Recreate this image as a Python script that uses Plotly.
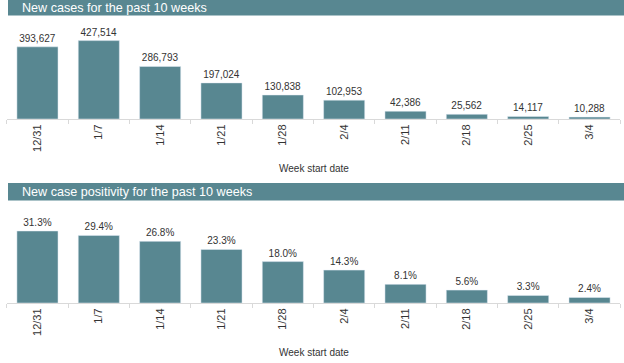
import plotly.graph_objects as go

weeks = ["12/31", "1/7", "1/14", "1/21", "1/28", "2/4", "2/11", "2/18", "2/25", "3/4"]
new_cases = [393627, 427514, 286793, 197024, 130838, 102953, 42386, 25562, 14117, 10288]
positivity = [31.3, 29.4, 26.8, 23.3, 18.0, 14.3, 8.1, 5.6, 3.3, 2.4]

title_top = "New cases for the past 10 weeks"
title_bottom = "New case positivity for the past 10 weeks"
x_title = "Week start date"

W, H = 624, 363
BAR = "#588791"
FONT = "Liberation Sans, Arial, sans-serif"
TXT = "#333333"

def px(x):
    return x / W

def py(y):
    return 1 - y / H

fig = go.Figure()
fig.add_trace(go.Bar(x=weeks, y=new_cases, marker_color=BAR, xaxis="x", yaxis="y",
                     texttemplate="%{y:,}", textposition="outside", cliponaxis=False,
                     textfont=dict(size=10, color=TXT, family=FONT), hoverinfo="x+y"))
fig.add_trace(go.Bar(x=weeks, y=positivity, marker_color=BAR, xaxis="x2", yaxis="y2",
                     texttemplate="%{y:.1f}%", textposition="outside", cliponaxis=False,
                     textfont=dict(size=10, color=TXT, family=FONT), hoverinfo="x+y"))

xcommon = dict(type="category", tickangle=-90, tickson="boundaries", ticks="outside",
               ticklen=4, tickcolor="#d9d9d9", showline=True, linecolor="#d9d9d9",
               linewidth=1, showgrid=False, zeroline=False,
               tickfont=dict(size=11, color=TXT, family=FONT),
               domain=[px(6.8), px(620.2)])
ycommon = dict(visible=False, showgrid=False, zeroline=False)

fig.update_layout(
    width=W, height=H, margin=dict(l=0, r=0, t=0, b=0),
    paper_bgcolor="white", plot_bgcolor="white", showlegend=False,
    bargap=0.33,
    font=dict(family=FONT, color=TXT),
    xaxis=dict(**xcommon, anchor="y"),
    yaxis=dict(**ycommon, range=[0, 480000], domain=[py(119), py(31)]),
    xaxis2=dict(**xcommon, anchor="y2"),
    yaxis2=dict(**ycommon, range=[0, 38], domain=[py(303), py(215.6)]),
    shapes=[
        dict(type="rect", xref="paper", yref="paper", x0=px(8), x1=1, y0=py(15.5), y1=1,
             fillcolor=BAR, line=dict(width=0), layer="below"),
        dict(type="rect", xref="paper", yref="paper", x0=px(8), x1=1, y0=py(200.5), y1=py(183),
             fillcolor=BAR, line=dict(width=0), layer="below"),
    ],
    annotations=[
        dict(text=title_top, xref="paper", yref="paper", x=px(19.5), y=py(7.5), xanchor="left",
             yanchor="middle", showarrow=False, font=dict(size=12.6, color="white", family=FONT)),
        dict(text=title_bottom, xref="paper", yref="paper", x=px(19.5), y=py(192), xanchor="left",
             yanchor="middle", showarrow=False, font=dict(size=12.6, color="white", family=FONT)),
        dict(text=x_title, xref="paper", yref="paper", x=px(314), y=py(168), xanchor="center",
             yanchor="middle", showarrow=False, font=dict(size=10, color=TXT, family=FONT)),
        dict(text=x_title, xref="paper", yref="paper", x=px(314), y=py(352), xanchor="center",
             yanchor="middle", showarrow=False, font=dict(size=10, color=TXT, family=FONT)),
    ],
)

fig.write_html("out.html", config={"displayModeBar": False},
               post_script="document.body.style.margin='0';document.body.style.overflow='hidden';")
